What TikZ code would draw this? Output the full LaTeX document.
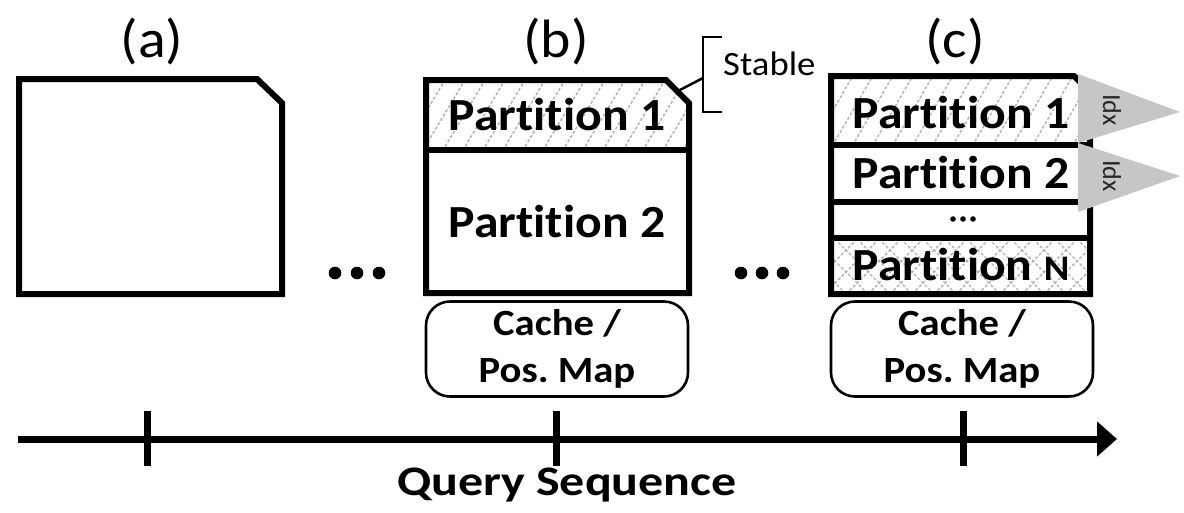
\documentclass[tikz,border=0pt]{standalone}
\usepackage{fontspec}
\setmainfont{Carlito}[Ligatures={NoCommon}]
\usetikzlibrary{positioning,arrows.meta}

\tikzset{
  frame/.style={line width=6pt, line join=miter},
  hatch/.style={gray!60, line width=1.4pt, dash pattern=on 3pt off 2pt},
  part/.style={font=\fontsize{46pt}{46pt}\selectfont\bfseries, inner sep=0pt, anchor=base, xscale=1.08},
  cachebox/.style={draw, line width=2.6pt, rounded corners=24pt, minimum width=262pt, minimum height=95pt},
  cachetext/.style={align=center, inner sep=0pt, font=\fontsize{37pt}{47pt}\selectfont\bfseries, xscale=1.1},
  caption/.style={font=\fontsize{54pt}{54pt}\selectfont, inner sep=0pt, anchor=base, xscale=1.07},
  idxtri/.style={fill=gray!45, draw=none},
  idxlabel/.style={font=\fontsize{26pt}{26pt}\selectfont, rotate=-90, inner sep=0pt, text=black!85},
  axis/.style={line width=7pt},
  tick/.style={line width=7pt},
}

\begin{document}
\begin{tikzpicture}[x=1pt, y=-1pt]
  \useasboundingbox (0,0) rectangle (1184,512);

  % stage labels
  \node[caption] (lbla) at (152,57) {(a)};
  \node[caption] (lblb) at (556,57) {(b)};
  \node[caption] (lblc) at (955,57) {(c)};

  % (a) empty store
  \draw[frame, fill=white] (19,79) -- (257,79) -- (282,103) -- (282,294) -- (19,294) -- cycle;

  % (b) two partitions, first one hatched
  \fill[white] (426,80) -- (666,80) -- (689,103) -- (689,293) -- (426,293) -- cycle;
  \begin{scope}
    \clip (426,80) -- (666,80) -- (689,103) -- (689,150) -- (426,150) -- cycle;
    \foreach \x in {380,400,...,700}
      \draw[hatch] (\x,155) -- ++(48,-80);
  \end{scope}
  \draw[frame] (426,80) -- (666,80) -- (689,103) -- (689,293) -- (426,293) -- cycle;
  \draw[frame] (426,150) -- (689,150);
  \node[part] (bpone) at (557,130) {Partition 1};
  \node[part] (bptwo) at (557,237) {Partition 2};

  % stable bracket
  \coordinate (chamf) at (678,91);
  \coordinate (brk) at (703,78);
  \draw[line width=2.5pt] (722,37) -- (703,37) -- (703,112) -- (722,112);
  \draw[line width=2.5pt] (chamf) -- (brk);
  \node[font=\fontsize{34pt}{34pt}\selectfont, inner sep=0pt, anchor=base west, xscale=1.08] (stable) at (723,75) {Stable};

  % (c) n partitions with indexes
  \fill[white] (831,76) -- (1074,76) -- (1090,92) -- (1090,294) -- (831,294) -- cycle;
  \begin{scope}
    \clip (831,76) -- (1090,76) -- (1090,145) -- (831,145) -- cycle;
    \foreach \x in {790,810,...,1100}
      \draw[hatch] (\x,150) -- ++(45,-78);
  \end{scope}
  \begin{scope}
    \clip (831,238) rectangle (1090,294);
    \foreach \x in {780,802,...,1140} {
      \draw[hatch] (\x,294) -- ++(56,-56);
      \draw[hatch] (\x,294) -- ++(-56,-56);
    }
  \end{scope}
  \draw[frame] (831,76) -- (1074,76) -- (1090,92) -- (1090,294) -- (831,294) -- cycle;
  \draw[frame] (831,145) -- (1090,145);
  \draw[frame] (831,202) -- (1090,202);
  \draw[frame] (831,238) -- (1090,238);
  \node[part] (cpone) at (961,128) {Partition 1};
  \node[part] (cptwo) at (961,188) {Partition 2};
  \node[part] (cpn) at (961,280) {Partition {\fontsize{36pt}{36pt}\selectfont N}};
  \foreach \x in {953,963,973}
    \fill (\x,219) circle (2.8);

  % index triangles
  \draw[idxtri] (1078,74) -- (1180,112) -- (1078,143) -- cycle;
  \draw[idxtri] (1078,143) -- (1180,176) -- (1078,212) -- cycle;
  \node[idxlabel] (idxone) at (1112,110) {Idx};
  \node[idxlabel] (idxtwo) at (1112,176) {Idx};

  % caches
  \node[cachebox] (cacheb) at (557,349) {};
  \node[cachetext] at (cacheb) {Cache /\\Pos.\ Map};
  \node[cachebox] (cachec) at (962,349) {};
  \node[cachetext] at (cachec) {Cache /\\Pos.\ Map};

  % gaps between stages
  \foreach \x in {335,357,379}
    \fill (\x,273) circle (6.3);
  \foreach \x in {741,762,783}
    \fill (\x,273) circle (6.3);

  % time axis
  \coordinate (tstart) at (18,439);
  \coordinate (tend) at (1117,439);
  \draw[axis, -{Triangle[length=20pt, width=34pt]}] (tstart) -- (tend);
  \foreach \x in {147,556,963}
    \draw[tick] (\x,411) -- (\x,466);
  \node[font=\fontsize{42pt}{42pt}\selectfont\bfseries, inner sep=0pt, anchor=base, xscale=1.19] (qseq) at (567,495) {Query Sequence};
\end{tikzpicture}
\end{document}
